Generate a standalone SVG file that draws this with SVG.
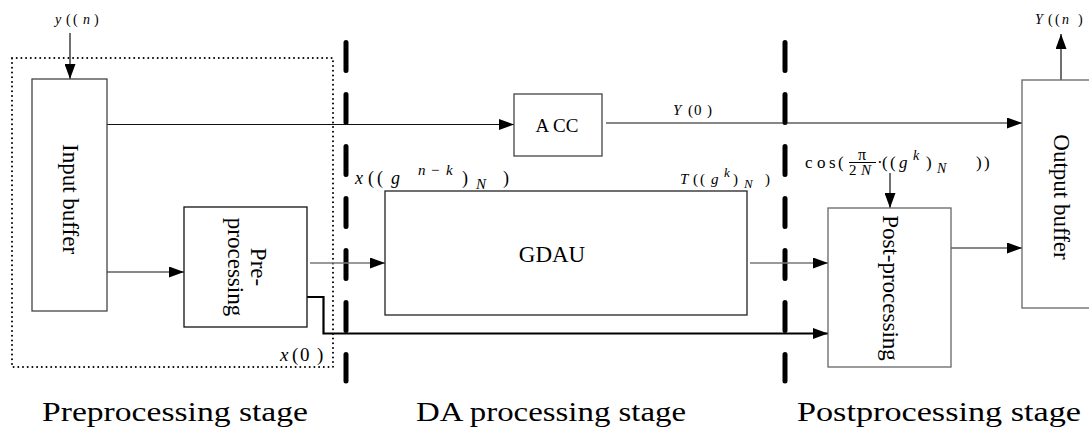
<svg xmlns="http://www.w3.org/2000/svg" width="1089" height="430" viewBox="0 0 1089 430" font-family="'Liberation Serif', 'Times New Roman', Tinos, serif">
<style>
text{font-family:'Liberation Serif','Times New Roman',Tinos,serif;fill:#000}
.box{fill:#fff;stroke:#333;stroke-width:1.3}
.i{font-style:italic}
.ln{fill:none;stroke:#111;stroke-width:1.2}
.gr{fill:none;stroke:#777;stroke-width:1.5}
.thick{fill:none;stroke:#000;stroke-width:2.2}
.dash{fill:none;stroke:#000;stroke-width:5;stroke-linecap:round;stroke-dasharray:28 24}
.dot{fill:none;stroke:#000;stroke-width:2;stroke-linecap:round;stroke-dasharray:0 4.7}
.stage{font-size:28px}
</style>
<defs>
<marker id="ah" markerUnits="userSpaceOnUse" markerWidth="15" markerHeight="11" refX="15" refY="5.5" orient="auto">
<path d="M0,0 L15,5.5 L0,11 z" fill="#000"/>
</marker>
</defs>

<g id="stage-separators">
<rect class="dot" x="12" y="58" width="321" height="309"/>
<line class="dash" x1="346" y1="42.5" x2="346" y2="381"/>
<line class="dash" x1="785" y1="42.5" x2="785" y2="381"/>
</g>

<g id="connectors">
<line class="ln" x1="70" y1="33" x2="70" y2="79" marker-end="url(#ah)"/>
<line class="ln" x1="107" y1="124.5" x2="514" y2="124.5" marker-end="url(#ah)"/>
<line class="ln" x1="606" y1="123" x2="1022" y2="123" marker-end="url(#ah)"/>
<line class="ln" x1="107" y1="272" x2="184" y2="272" marker-end="url(#ah)"/>
<line class="gr" x1="310" y1="263" x2="385" y2="263" marker-end="url(#ah)"/>
<line class="gr" x1="750" y1="263" x2="828" y2="263" marker-end="url(#ah)"/>
<polyline class="thick" points="307,297 323.5,297 323.5,333.5 828,333.5" marker-end="url(#ah)"/>
<line class="ln" x1="890" y1="173" x2="890" y2="208" marker-end="url(#ah)"/>
<line class="ln" x1="951" y1="248" x2="1022" y2="248" marker-end="url(#ah)"/>
<line class="ln" x1="1061" y1="80" x2="1061" y2="34" marker-end="url(#ah)"/>
</g>

<g id="input-buffer">
<rect class="box" x="32" y="79" width="75" height="232" style="stroke:#444"/>
<text font-size="23" text-anchor="middle" dominant-baseline="central" transform="translate(70,199) rotate(90)">Input buffer</text>
</g>

<g id="pre-processing">
<rect class="box" x="184" y="207" width="123" height="120" style="stroke:#111"/>
<text font-size="23" text-anchor="middle" dominant-baseline="central" transform="translate(245,267) rotate(90)"><tspan x="0" y="-14">Pre-</tspan><tspan x="0" y="9">processing</tspan></text>
</g>

<g id="acc">
<rect class="box" x="514" y="94" width="88" height="62" style="stroke:#444"/>
<text font-size="19" text-anchor="middle" x="557" y="132">A CC</text>
</g>

<g id="gdau">
<rect class="box" x="385" y="191" width="362" height="124" style="stroke:#222"/>
<text font-size="23" text-anchor="middle" x="552" y="262">GDAU</text>
</g>

<g id="post-processing">
<rect class="box" x="828" y="208" width="123" height="159" style="stroke:#666"/>
<text font-size="23" text-anchor="middle" dominant-baseline="central" transform="translate(890,288) rotate(90)">Post-processing</text>
</g>

<g id="output-buffer">
<rect class="box" x="1022" y="80" width="80" height="228" style="stroke:#666"/>
<text font-size="23" text-anchor="middle" dominant-baseline="central" transform="translate(1061,197) rotate(90)">Output buffer</text>
</g>

<g id="labels">
<text font-size="14" y="24"><tspan class="i" x="55">y</tspan><tspan x="66">(</tspan><tspan x="73">(</tspan><tspan class="i" x="83">n</tspan><tspan x="94">)</tspan></text>
<text font-size="14" y="24"><tspan class="i" x="1035">Y</tspan><tspan x="1048">(</tspan><tspan x="1055">(</tspan><tspan class="i" x="1062">n</tspan><tspan x="1078">)</tspan></text>
<text font-size="15" y="115"><tspan class="i" x="673">Y</tspan><tspan x="688">(</tspan><tspan x="694">0</tspan><tspan x="707">)</tspan></text>
<text font-size="19" y="361"><tspan class="i" x="280">x</tspan><tspan x="292">(</tspan><tspan x="300">0</tspan><tspan x="317">)</tspan></text>
<text font-size="18" y="184"><tspan class="i" x="355">x</tspan><tspan x="368">(</tspan><tspan x="377">(</tspan><tspan class="i" x="391">g</tspan><tspan class="i" font-size="15" x="418" y="175">n</tspan><tspan font-size="15" x="431" y="175">−</tspan><tspan class="i" font-size="15" x="446" y="175">k</tspan><tspan x="462" y="184">)</tspan><tspan class="i" font-size="15" x="476" y="189">N</tspan><tspan x="503" y="184">)</tspan></text>
<text font-size="15" y="184"><tspan class="i" x="680">T</tspan><tspan x="693">(</tspan><tspan x="700">(</tspan><tspan class="i" x="711">g</tspan><tspan class="i" font-size="13" x="724" y="177">k</tspan><tspan x="733" y="184">)</tspan><tspan class="i" font-size="13" x="744" y="188">N</tspan><tspan x="765" y="184">)</tspan></text>
<text font-size="17" y="168"><tspan x="805">c</tspan><tspan x="817">o</tspan><tspan x="829">s</tspan><tspan x="838">(</tspan><tspan x="877">·</tspan><tspan x="882">(</tspan><tspan x="890">(</tspan><tspan class="i" x="899">g</tspan><tspan class="i" font-size="14" x="913" y="160">k</tspan><tspan x="926" y="168">)</tspan><tspan class="i" font-size="14" x="937" y="173">N</tspan><tspan x="976" y="168">)</tspan><tspan x="984" y="168">)</tspan></text>
<text font-size="16" x="862" y="160" text-anchor="middle">π</text>
<line x1="849" y1="162.5" x2="876" y2="162.5" stroke="#000" stroke-width="1"/>
<text font-size="15" y="175"><tspan x="849">2</tspan><tspan class="i" x="861">N</tspan></text>
</g>

<g id="stage-labels">
<text class="stage" x="42" y="421" textLength="266" lengthAdjust="spacingAndGlyphs">Preprocessing stage</text>
<text class="stage" x="416" y="421" textLength="270" lengthAdjust="spacingAndGlyphs">DA processing stage</text>
<text class="stage" x="797" y="421" textLength="284" lengthAdjust="spacingAndGlyphs">Postprocessing stage</text>
</g>
</svg>
